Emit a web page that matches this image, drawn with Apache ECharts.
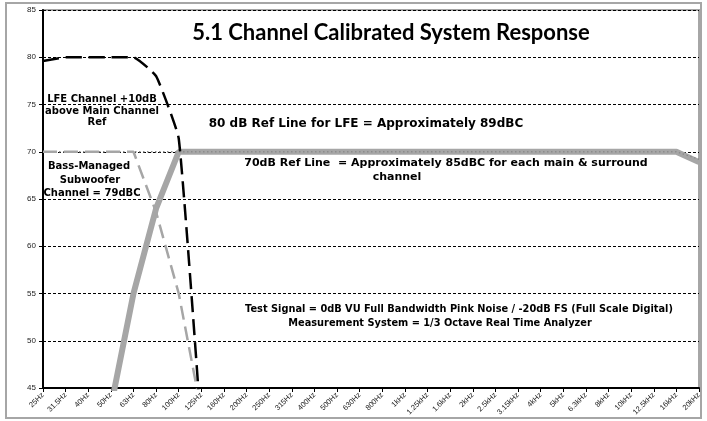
<!DOCTYPE html>
<html><head><meta charset="utf-8">
<script src="https://cdn.jsdelivr.net/npm/echarts@6/dist/echarts.min.js"></script>
<style>html,body{margin:0;padding:0;background:#fff}#c{width:707px;height:421px}</style>
</head><body><div id="c"></div>
<script>
const categories = ['25Hz','31.5Hz','40Hz','50Hz','63Hz','80Hz','100Hz','125Hz','160Hz','200Hz','250Hz','315Hz','400Hz','500Hz','630Hz','800Hz','1kHz','1.25kHz','1.6kHz','2kHz','2.5kHz','3.15kHz','4kHz','5kHz','6.3kHz','8kHz','10kHz','12.5kHz','16kHz','20kHz'];
const lfe = [79.6,80,80,80,80,78,71.4,40.5,null,null,null,null,null,null,null,null,null,null,null,null,null,null,null,null,null,null,null,null,null,null];
const bassManaged = [70,70,70,70,70,63.6,55,42.5,null,null,null,null,null,null,null,null,null,null,null,null,null,null,null,null,null,null,null,null,null,null];
const mainResponse = [null,null,null,43,55,64,70,70,70,70,70,70,70,70,70,70,70,70,70,70,70,70,70,70,70,70,70,70,70,68.9];
const refLine70 = [70,70,70,70,70,70,70,70,70,70,70,70,70,70,70,70,70,70,70,70,70,70,70,70,70,70,70,70,70,69.2];
const yTicks = [45,50,55,60,65,70,75,80,85];

const chart = echarts.init(document.getElementById('c'));
const F = '"DejaVu Sans", Verdana, sans-serif';
function txt(x, y, s, size, fam) {
  return {type:'text', x:x, y:y, z:100, style:{text:s, x:0, y:0, fill:'#000', font:'bold '+size+'px '+(fam||F), textAlign:'center', textVerticalAlign:'middle'}};
}
chart.setOption({
  animation:false,
  grid:{left:43, right:8, top:10, bottom:33, show:true, borderColor:'#a6a6a6', borderWidth:2, backgroundColor:'transparent'},
  xAxis:{type:'category', data:categories, boundaryGap:false,
    axisLine:{lineStyle:{color:'#000', width:2}},
    axisTick:{show:true, length:4, lineStyle:{color:'#000', width:1}},
    axisLabel:{rotate:45, fontSize:7.5, color:'#222', fontFamily:'Arial, "Liberation Sans", sans-serif', margin:6, interval:0},
    splitLine:{show:false}},
  yAxis:{type:'value', min:yTicks[0], max:yTicks[yTicks.length-1], interval:5,
    axisLine:{show:true, lineStyle:{color:'#000', width:2}},
    axisTick:{show:true, length:4, lineStyle:{color:'#000', width:1}},
    axisLabel:{fontSize:8, color:'#222', fontFamily:'Arial, "Liberation Sans", sans-serif', margin:7},
    splitLine:{show:true, lineStyle:{color:'#000', width:1, type:[3,2]}}},
  series:[
    {name:'Main', type:'line', data:mainResponse, showSymbol:false, symbol:'none', lineStyle:{color:'#a6a6a6', width:6}, z:2},
    {name:'Ref70', type:'line', data:refLine70, showSymbol:false, symbol:'none', lineStyle:{color:'#8c8c8c', width:1.5, type:[1.5,2.5]}, z:3},
    {name:'Bass', type:'line', data:bassManaged, showSymbol:false, symbol:'none', lineStyle:{color:'#a6a6a6', width:2.5, type:[14,7]}, z:4},
    {name:'LFE', type:'line', data:lfe, showSymbol:false, symbol:'none', smooth:0.12, lineStyle:{color:'#000', width:2.5, type:[16,7]}, z:5}
  ],
  graphic:[
    {type:'rect', shape:{x:6, y:3, width:695, height:415}, style:{fill:'none', stroke:'#a6a6a6', lineWidth:2}, z:0, silent:true},
    txt(391, 33, '5.1 Channel Calibrated System Response', 22, 'Lato, "Open Sans", sans-serif'),
    txt(102, 99, 'LFE Channel +10dB', 10),
    txt(102, 111, 'above Main Channel', 10),
    txt(97, 122, 'Ref', 10),
    txt(366, 124, '80 dB Ref Line for LFE = Approximately 89dBC', 12),
    txt(89, 166, 'Bass-Managed', 10),
    txt(90, 180, 'Subwoofer', 10),
    txt(92, 193, 'Channel = 79dBC', 10),
    txt(446, 163, '70dB Ref Line  = Approximately 85dBC for each main & surround', 11),
    txt(397, 177, 'channel', 11),
    txt(459, 309, 'Test Signal = 0dB VU Full Bandwidth Pink Noise / -20dB FS (Full Scale Digital)', 9.8),
    txt(440, 323, 'Measurement System = 1/3 Octave Real Time Analyzer', 9.8)
  ]
});
</script></body></html>
